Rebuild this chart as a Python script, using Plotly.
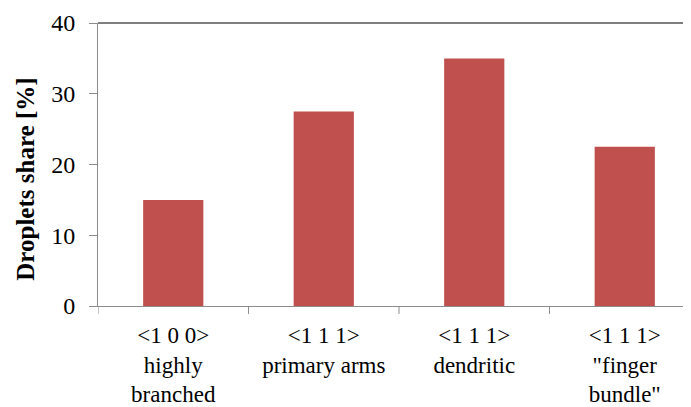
import plotly.graph_objects as go

categories = ["<1 0 0><br>highly<br>branched", "<1 1 1><br>primary arms",
              "<1 1 1><br>dendritic", "<1 1 1><br>\"finger<br>bundle\""]
values = [15, 27.5, 35, 22.5]
y_ticks = [0, 10, 20, 30, 40]

FONT = "Liberation Serif, Times New Roman, serif"

fig = go.Figure(go.Bar(x=list(range(len(categories))), y=values,
                       marker=dict(color="#C0504D", line=dict(width=0)),
                       width=0.4))

fig.update_layout(
    width=692, height=399,
    margin=dict(l=89.5, r=0, t=15, b=97),
    paper_bgcolor="white", plot_bgcolor="white",
    showlegend=False,
    font=dict(family=FONT, color="black"),
    xaxis=dict(
        range=[-0.5, 3.5],
        tickmode="array", tickvals=list(range(len(categories))), ticktext=categories,
        showgrid=False, zeroline=False,
        showline=True, linecolor="#8c8c8c", linewidth=1,
        ticks="", tickfont=dict(size=23, family=FONT, color="black"),
        ticklabelstandoff=8,
    ),
    yaxis=dict(
        range=[0, 40], tickvals=y_ticks,
        showgrid=False, zeroline=False,
        showline=True, linecolor="#8c8c8c", linewidth=1,
        ticks="outside", ticklen=8, tickcolor="#8c8c8c",
        tickfont=dict(size=24, family=FONT, color="black"),
        ticklabelstandoff=9,
    ),
    shapes=[
        dict(type="line", xref="paper", yref="paper", x0=0, x1=1, y0=1, y1=1,
             line=dict(color="#555555", width=1.5)),
    ] + [
        dict(type="line", xref="x", yref="paper", x0=b, x1=b, y0=0, y1=-0.028,
             line=dict(color="#8c8c8c", width=1))
        for b in [-0.5, 0.5, 1.5, 2.5]
    ],
    annotations=[
        dict(text="<b>Droplets share [%]</b>", xref="paper", yref="paper",
             x=-0.120, y=0.449, textangle=-90, showarrow=False,
             font=dict(size=25, family=FONT, color="black"),
             xanchor="center", yanchor="middle"),
    ],
)

fig.write_html("out.html")
